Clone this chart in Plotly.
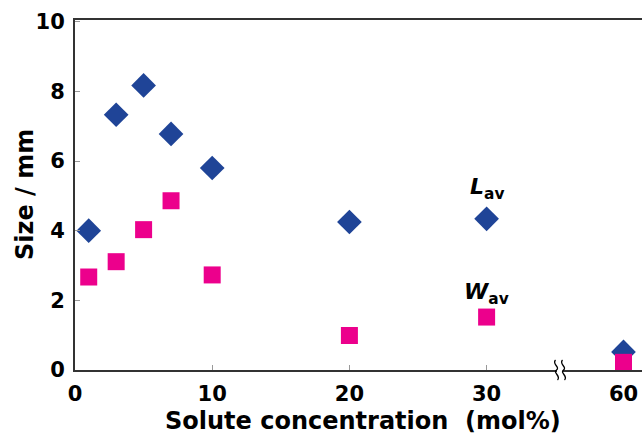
import plotly.graph_objects as go

# ---- data ----
conc = [1, 3, 5, 7, 10, 20, 30, 60]          # solute concentration (mol%)
L_av = [4.0, 7.33, 8.17, 6.78, 5.80, 4.25, 4.34, 0.52]   # mm
W_av = [2.67, 3.11, 4.03, 4.86, 2.73, 0.99, 1.52, 0.22]  # mm
x_ticks_main = [0, 10, 20, 30]
x_ticks_far = [60]
y_ticks = [0, 2, 4, 6, 8, 10]
BREAK = 35.35   # axis break position (start of the far segment)

BLUE = "#1F4497"
PINK = "#EC008C"
FONT = "DejaVu Sans"

near = [i for i, c in enumerate(conc) if c < BREAK]
far = [i for i, c in enumerate(conc) if c >= BREAK]

fig = go.Figure()
for idx, xa in ((near, "x"), (far, "x2")):
    fig.add_trace(go.Scatter(
        x=[conc[i] for i in idx], y=[L_av[i] for i in idx], xaxis=xa, yaxis="y",
        mode="markers", cliponaxis=False, showlegend=False,
        marker=dict(symbol="diamond", size=19, color=BLUE, line=dict(width=0))))
for idx, xa in ((near, "x"), (far, "x2")):
    fig.add_trace(go.Scatter(
        x=[conc[i] for i in idx], y=[W_av[i] for i in idx], xaxis=xa, yaxis="y",
        mode="markers", cliponaxis=False, showlegend=False,
        marker=dict(symbol="square", size=17, color=PINK, line=dict(width=0))))

split = 0.8554
axis_common = dict(showline=True, linecolor="#333333", linewidth=2, showgrid=False,
                   zeroline=False, mirror=True,
                   tickfont=dict(family=FONT, size=21, color="black", weight="bold"))
fig.update_layout(
    width=642, height=436,
    margin=dict(l=75, r=0, t=20, b=66),
    paper_bgcolor="white", plot_bgcolor="white",
    xaxis=dict(domain=[0, split], range=[0, BREAK], tickvals=x_ticks_main,
               ticks="inside", ticklen=5, tickwidth=1, tickcolor="#999999",
               anchor="y", ticklabelstandoff=4, **axis_common),
    xaxis2=dict(domain=[split, 1], range=[55.37, 61.35], tickvals=x_ticks_far,
                ticks="", anchor="y", ticklabelstandoff=4, **axis_common),
    yaxis=dict(range=[0, 10.05], tickvals=y_ticks, ticks="inside", ticklen=5,
               tickwidth=1, tickcolor="#999999", anchor="x",
               showline=True, linecolor="#333333", linewidth=2, showgrid=False,
               zeroline=False, ticklabelstandoff=4,
               tickfont=dict(family=FONT, size=21, color="black", weight="bold")),
)

# axis titles
fig.add_annotation(text="<b>Solute concentration  (mol%)</b>", xref="paper", yref="paper",
                   x=0.508, y=-0.146, showarrow=False, xanchor="center", yanchor="middle",
                   font=dict(family=FONT, size=24, color="black"))
fig.add_annotation(text="<b>Size / mm</b>", xref="paper", yref="paper",
                   x=-0.088, y=0.5, showarrow=False, textangle=-90,
                   xanchor="center", yanchor="middle",
                   font=dict(family=FONT, size=24, color="black"))

# series labels
fig.add_annotation(text="<b><i>L</i></b><sub><b>av</b></sub>", x=30, y=5.2, xref="x", yref="y",
                   showarrow=False, font=dict(family=FONT, size=22, color="black"))
fig.add_annotation(text="<b><i>W</i></b><sub><b>av</b></sub>", x=30, y=2.2, xref="x", yref="y",
                   showarrow=False, font=dict(family=FONT, size=22, color="black"))

# axis-break marks (white gap + two wavy strokes)
fig.add_shape(type="rect", xref="paper", yref="paper", xsizemode="pixel", ysizemode="pixel",
              xanchor=split, yanchor=0, x0=-3, x1=3, y0=-2, y1=2,
              fillcolor="white", line=dict(width=0), layer="above")
for dx in (-3.5, 3.5):
    fig.add_shape(type="path", xref="paper", yref="paper", xsizemode="pixel", ysizemode="pixel",
                  xanchor=split, yanchor=0, layer="above",
                  path=(f"M {dx-1},10 C {dx-5},6 {dx+4},3 {dx},0 "
                        f"C {dx-4},-3 {dx+5},-6 {dx+1},-10"),
                  line=dict(color="black", width=1.3))

fig.write_html("out.html", config={"displayModeBar": False},
               post_script="document.body.style.margin='0';document.body.style.overflow='hidden';")
